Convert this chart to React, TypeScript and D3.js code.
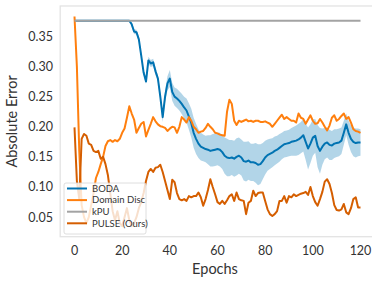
import * as d3 from "d3";

// epochs 0..120, values
const epochs = d3.range(0, 121);

const kpu = epochs.map(() => 0.376);

const boda = [
  0.376, 0.376, 0.376, 0.376, 0.376, 0.376, 0.376, 0.376, 0.376, 0.376,
  0.376, 0.376, 0.376, 0.376, 0.376, 0.376, 0.376, 0.376, 0.376, 0.376,
  0.376, 0.376, 0.376, 0.376, 0.37, 0.358, 0.357, 0.345, 0.318, 0.29,
  0.275, 0.31, 0.305, 0.307, 0.292, 0.28, 0.25, 0.216, 0.25, 0.272,
  0.28, 0.258, 0.25, 0.247, 0.243, 0.238, 0.232, 0.227, 0.217, 0.206,
  0.19, 0.18, 0.172, 0.167, 0.165, 0.163, 0.162, 0.16, 0.161, 0.162,
  0.163, 0.162, 0.158, 0.152, 0.149, 0.148, 0.149, 0.147, 0.15, 0.152,
  0.149, 0.143, 0.142, 0.144, 0.141, 0.141, 0.14, 0.137, 0.138, 0.143,
  0.149, 0.153, 0.155, 0.157, 0.16, 0.162, 0.165, 0.168, 0.171, 0.172,
  0.173, 0.175, 0.176, 0.177, 0.179, 0.182, 0.186, 0.175, 0.164, 0.172,
  0.182, 0.185, 0.168, 0.16, 0.167, 0.172, 0.174, 0.17, 0.169, 0.172,
  0.173, 0.174, 0.177, 0.19, 0.204, 0.19, 0.18, 0.175, 0.173, 0.174,
  0.174,
];

const bodaStd = [
  0, 0, 0, 0, 0, 0, 0, 0, 0, 0,
  0, 0, 0, 0, 0, 0, 0, 0, 0, 0,
  0, 0, 0, 0, 0.004, 0.004, 0.004, 0.004, 0.004, 0.004,
  0.004, 0.006, 0.006, 0.006, 0.006, 0.006, 0.006, 0.008, 0.01, 0.012,
  0.014, 0.015, 0.015, 0.016, 0.016, 0.017, 0.018, 0.02, 0.022, 0.024,
  0.025, 0.025, 0.024, 0.023, 0.022, 0.022, 0.024, 0.026, 0.027, 0.027,
  0.027, 0.028, 0.028, 0.03, 0.031, 0.03, 0.029, 0.03, 0.031, 0.03,
  0.03, 0.032, 0.033, 0.032, 0.031, 0.031, 0.033, 0.034, 0.033, 0.03,
  0.028, 0.026, 0.025, 0.024, 0.024, 0.023, 0.023, 0.022, 0.022, 0.022,
  0.022, 0.023, 0.024, 0.025, 0.026, 0.026, 0.027, 0.03, 0.035, 0.032,
  0.03, 0.028, 0.035, 0.038, 0.03, 0.026, 0.025, 0.025, 0.024, 0.024,
  0.023, 0.023, 0.022, 0.02, 0.018, 0.02, 0.022, 0.024, 0.024, 0.023,
  0.022,
];

const domainDisc = [
  0.383, 0.3, 0.16, 0.07, 0.05, 0.04, 0.05, 0.07, 0.09, 0.115,
  0.125, 0.138, 0.15, 0.168, 0.176, 0.178, 0.175, 0.178, 0.176, 0.18,
  0.19, 0.197, 0.215, 0.234, 0.222, 0.212, 0.19, 0.198, 0.205, 0.208,
  0.184, 0.195, 0.205, 0.216, 0.209, 0.204, 0.201, 0.2, 0.198, 0.193,
  0.197, 0.2, 0.199, 0.19, 0.2, 0.216, 0.212, 0.207, 0.216, 0.21,
  0.2, 0.196, 0.19, 0.192, 0.193, 0.198, 0.205, 0.2, 0.196, 0.19,
  0.189, 0.187, 0.186, 0.185, 0.225, 0.245, 0.238, 0.21, 0.203, 0.21,
  0.208, 0.21, 0.212, 0.209, 0.21, 0.208, 0.21, 0.21, 0.208, 0.208,
  0.209, 0.207, 0.205, 0.2, 0.205, 0.21, 0.215, 0.22, 0.213, 0.216,
  0.213, 0.21, 0.21, 0.207, 0.222, 0.215, 0.213, 0.205, 0.212, 0.219,
  0.21, 0.205, 0.206, 0.213, 0.207, 0.2, 0.194, 0.202, 0.215, 0.219,
  0.21, 0.213, 0.218, 0.222, 0.213, 0.216, 0.207, 0.196, 0.193, 0.192,
  0.19,
];

const pulse = [
  0.199, 0.11, 0.08, 0.18, 0.188, 0.185, 0.172, 0.17, 0.16, 0.158,
  0.16, 0.147, 0.15, 0.138, 0.12, 0.09, 0.06, 0.045, 0.06, 0.04,
  0.035, 0.05, 0.065, 0.045, 0.035, 0.04, 0.05, 0.065, 0.075, 0.09,
  0.11, 0.125, 0.13, 0.125, 0.132, 0.133, 0.137, 0.125, 0.11, 0.095,
  0.08, 0.112, 0.108, 0.09, 0.08, 0.078, 0.08, 0.077, 0.085, 0.083,
  0.085, 0.085, 0.091, 0.083, 0.069, 0.08, 0.095, 0.113, 0.1, 0.088,
  0.075, 0.072, 0.077, 0.072, 0.078, 0.085, 0.088, 0.077, 0.091, 0.08,
  0.078, 0.077, 0.055, 0.074, 0.077, 0.094, 0.085, 0.09, 0.091, 0.091,
  0.077, 0.063, 0.055, 0.052, 0.055, 0.06, 0.077, 0.077, 0.085, 0.074,
  0.085, 0.083, 0.088, 0.085, 0.087, 0.089, 0.09, 0.092, 0.087, 0.1,
  0.085, 0.075, 0.069, 0.08, 0.092, 0.109, 0.113, 0.105, 0.09, 0.07,
  0.062, 0.061, 0.063, 0.072, 0.058, 0.055, 0.065, 0.08, 0.083, 0.066,
  0.066,
];

const xTicks = [0, 20, 40, 60, 80, 100, 120];
const yTicks = [0.05, 0.1, 0.15, 0.2, 0.25, 0.3, 0.35];

const seriesNames = ["BODA", "Domain Disc", "kPU", "PULSE (Ours)"];
const seriesColors = ["#0173b2", "#ff7f0e", "#a3a3a3", "#d55e00"];

const W = 372;
const H = 284;
const FONT = "Lato, 'DejaVu Sans', sans-serif";

export default function App() {
  const plot = { left: 60.2, right: 374.8, top: 6, bottom: 236.7 };

  // matplotlib-like 5% padding around the data
  const yLo = d3.min([
    d3.min(boda, (v, i) => v - bodaStd[i]) as number,
    d3.min(domainDisc) as number,
    d3.min(pulse) as number,
  ]) as number;
  const yHi = d3.max([
    d3.max(boda, (v, i) => v + bodaStd[i]) as number,
    d3.max(domainDisc) as number,
    d3.max(kpu) as number,
  ]) as number;
  const yPad = (yHi - yLo) * 0.05;

  const x = d3.scaleLinear().domain([-6, 126]).range([plot.left, plot.right]);
  const y = d3
    .scaleLinear()
    .domain([yLo - yPad, yHi + yPad])
    .range([plot.bottom, plot.top]);

  const line = d3
    .line<number>()
    .x((_, i) => x(epochs[i]))
    .y((d) => y(d));

  const band = d3
    .area<number>()
    .x((_, i) => x(epochs[i]))
    .y0((d, i) => y(d - bodaStd[i]))
    .y1((d, i) => y(d + bodaStd[i]));

  const series = [boda, domainDisc, kpu, pulse];

  const legendX = 64;
  const legendY = 183;

  return (
    <svg
      width={W}
      height={H}
      style={{ position: "absolute", left: 0, top: 0, background: "#fff" }}
      fontFamily={FONT}
    >
      <defs>
        <clipPath id="plot-clip">
          <rect x={plot.left} y={plot.top} width={plot.right - plot.left} height={plot.bottom - plot.top} />
        </clipPath>
      </defs>

      <rect
        x={plot.left}
        y={plot.top}
        width={plot.right - plot.left}
        height={plot.bottom - plot.top}
        fill="none"
        stroke="#e3e3e3"
        strokeWidth={1.3}
      />

      <g clipPath="url(#plot-clip)">
        <path d={band(boda) ?? ""} fill="#0173b2" fillOpacity={0.3} stroke="none" />
        {series.map((s, k) => (
          <path
            key={seriesNames[k]}
            d={line(s) ?? ""}
            fill="none"
            stroke={seriesColors[k]}
            strokeWidth={2}
            strokeLinejoin="round"
            strokeLinecap="butt"
          />
        ))}
      </g>

      {/* y axis */}
      {yTicks.map((t) => (
        <text key={t} x={53} y={y(t)} dy="0.35em" textAnchor="end" fontSize={12.5} fill="#333">
          {t.toFixed(2)}
        </text>
      ))}
      <text
        transform={`translate(17,${(plot.top + plot.bottom) / 2}) rotate(-90)`}
        textAnchor="middle"
        fontSize={14.5}
        fill="#333"
      >
        Absolute Error
      </text>

      {/* x axis */}
      {xTicks.map((t) => (
        <text key={t} x={x(t)} y={255} textAnchor="middle" fontSize={12.5} fill="#333">
          {t}
        </text>
      ))}
      <text x={215} y={274} textAnchor="middle" fontSize={14.5} fill="#333">
        Epochs
      </text>

      {/* legend */}
      <rect
        x={legendX}
        y={legendY}
        width={82}
        height={51}
        rx={2}
        fill="#fff"
        fillOpacity={0.8}
        stroke="#d6d6d6"
        strokeWidth={0.8}
      />
      {seriesNames.map((name, k) => {
        const cy = legendY + 5.5 + k * 11.6;
        return (
          <g key={name}>
            <line x1={legendX + 3} x2={legendX + 23} y1={cy} y2={cy} stroke={seriesColors[k]} strokeWidth={2} />
            <text x={legendX + 28} y={cy} dy="0.35em" fontSize={9.5} fill="#333">
              {name}
            </text>
          </g>
        );
      })}
    </svg>
  );
}
